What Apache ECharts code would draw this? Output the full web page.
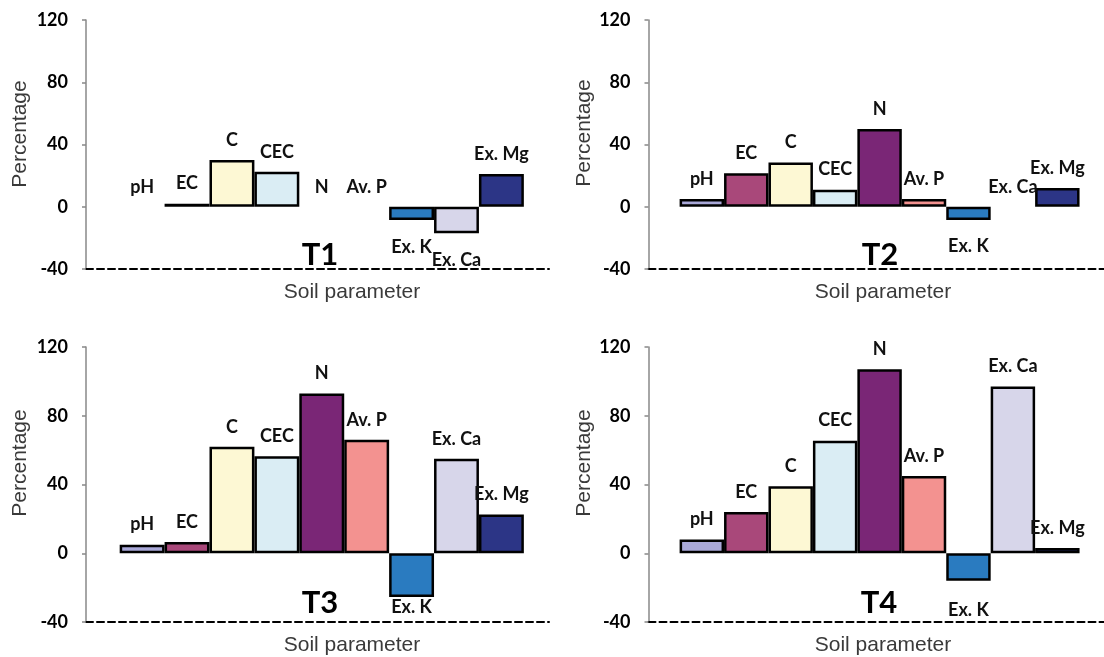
<!DOCTYPE html>
<html>
<head>
<meta charset="utf-8">
<script src="https://cdn.jsdelivr.net/npm/echarts@6/dist/echarts.min.js"></script>
<style>
  html, body { margin: 0; padding: 0; background: #ffffff; }
  #chart { width: 1104px; height: 657px; }
</style>
</head>
<body>
<div id="chart"></div>
<script>
// Soil parameter change (%) under four treatments
const categories = ['pH', 'EC', 'C', 'CEC', 'N', 'Av. P', 'Ex. K', 'Ex. Ca', 'Ex. Mg'];
const t1 = [0, 2, 30, 22.5, 0, 0, -8.5, -17, 21];
const t2 = [5, 21.5, 28.5, 11, 50, 5, -8.5, 0, 12];
const t3 = [5, 6.5, 62, 56.5, 93, 66, -25.5, 55, 22.5];
const t4 = [8, 24, 39, 65.5, 107, 45, -16, 97, 3];
const panelNames = ['T1', 'T2', 'T3', 'T4'];
const yTicks = { min: -40, max: 120, step: 40 };
const barColors = ['#A9A8D8', '#A9487A', '#FDF8D4', '#DAEDF4', '#7A2676',
                   '#F39290', '#2A7BC0', '#D7D6EA', '#2C3586'];

const chart = echarts.init(document.getElementById('chart'));

// panel layout: grid box, x extent and label offsets
const panels = [
  { values: t1, left: 86, top: 20, width: 463, height: 249, xMin: -1.25, xMax: 9.06, negDist: 18,
    tag: [320, 255], xName: [352, 292], yName: [20, 134] },
  { values: t2, left: 648.5, top: 20, width: 455.5, height: 249, xMin: -1.2, xMax: 9.05, negDist: 17,
    tag: [880, 255], xName: [883, 292], yName: [584, 133] },
  { values: t3, left: 86, top: 347, width: 463, height: 275, xMin: -1.25, xMax: 9.06, negDist: 1,
    tag: [320, 603], xName: [352, 645], yName: [20, 463] },
  { values: t4, left: 648.5, top: 347, width: 455.5, height: 275, xMin: -1.2, xMax: 9.05, negDist: 20,
    tag: [879, 603], xName: [883, 645], yName: [584, 463] }
];

const labelFont = { fontFamily: 'Lato', fontWeight: 'bold', fontSize: 18, color: '#111' };

const grids = [], xAxes = [], yAxes = [], series = [], graphics = [];

panels.forEach((p, k) => {
  grids.push({ left: p.left, top: p.top, width: p.width, height: p.height, containLabel: false });
  xAxes.push({
    type: 'value', gridIndex: k, min: p.xMin, max: p.xMax,
    axisLine: { show: true, onZero: false, lineStyle: { color: '#000', width: 2, type: [7, 4] } },
    axisTick: { show: false }, axisLabel: { show: false }, splitLine: { show: false }
  });
  yAxes.push({
    type: 'value', gridIndex: k, min: yTicks.min, max: yTicks.max, interval: yTicks.step,
    axisLine: { show: true, onZero: false, lineStyle: { color: '#888', width: 1.5 } },
    axisTick: { show: true, length: 4, lineStyle: { color: '#888', width: 1.5 } },
    axisLabel: { margin: 18, fontFamily: 'Lato', fontWeight: 'bold', fontSize: 18, color: '#000' },
    splitLine: { show: false }
  });
  series.push({
    type: 'bar', xAxisIndex: k, yAxisIndex: k, barWidth: '100%',
    data: p.values.map((v, i) => ({
      value: [i, v],
      itemStyle: {
        color: barColors[i],
        borderColor: '#000',
        borderWidth: v === 0 ? 0 : 2.5
      },
      label: {
        show: true,
        position: v < 0 ? 'bottom' : 'top',
        distance: v < 0 ? p.negDist : 11,
        formatter: categories[i],
        ...labelFont
      }
    })),
    animation: false
  });
  graphics.push({
    type: 'text', x: p.tag[0], y: p.tag[1],
    style: { text: panelNames[k], font: 'bold 31px Lato', fill: '#000',
             textAlign: 'center', textVerticalAlign: 'middle' }
  });
  graphics.push({
    type: 'text', x: p.xName[0], y: p.xName[1],
    style: { text: 'Soil parameter', font: '21px "Liberation Sans", Arial', fill: '#3a3a3a',
             textAlign: 'center', textVerticalAlign: 'middle' }
  });
  graphics.push({
    type: 'text', x: p.yName[0], y: p.yName[1], rotation: Math.PI / 2,
    style: { text: 'Percentage', font: '21px "Liberation Sans", Arial', fill: '#3a3a3a',
             textAlign: 'center', textVerticalAlign: 'middle' }
  });
});

chart.setOption({
  animation: false,
  grid: grids,
  xAxis: xAxes,
  yAxis: yAxes,
  series: series,
  graphic: graphics
});
</script>
</body>
</html>
